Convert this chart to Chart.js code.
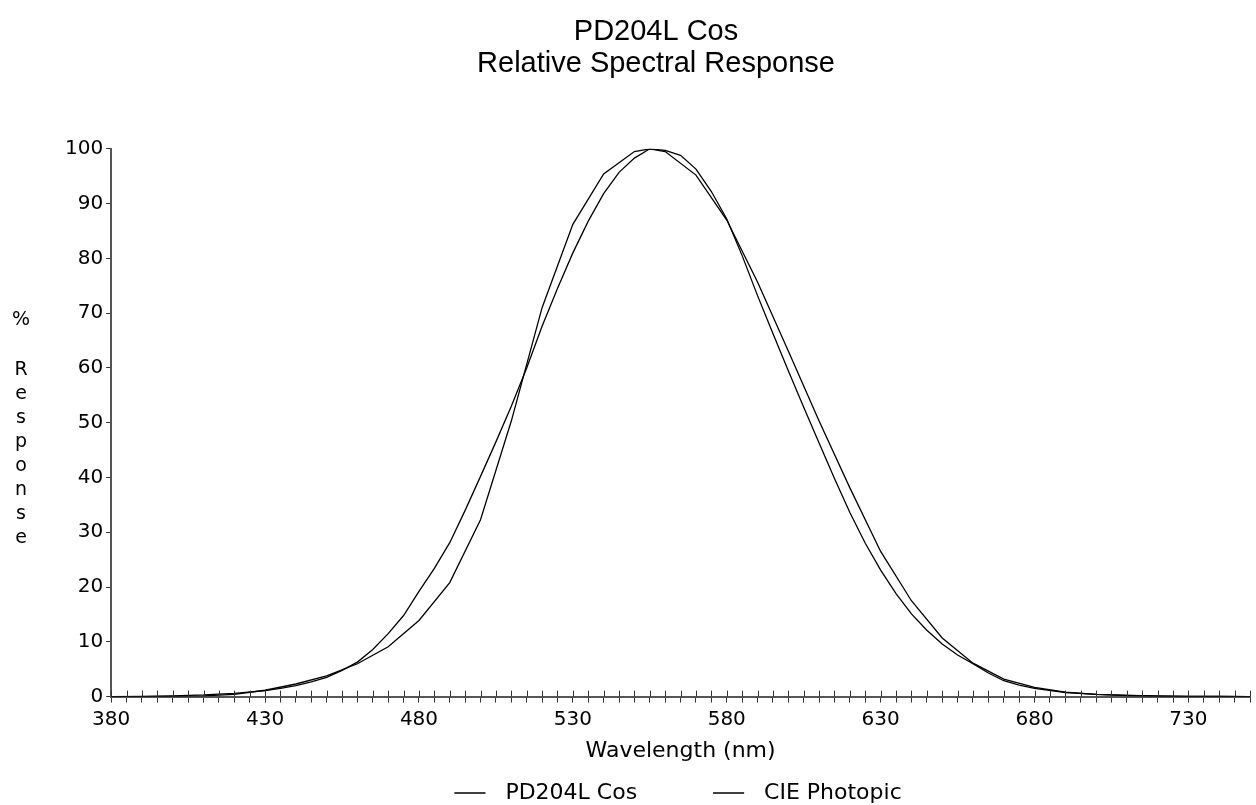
<!DOCTYPE html>
<html>
<head>
<meta charset="utf-8">
<script src="https://cdn.jsdelivr.net/npm/chart.js@4.4.1/dist/chart.umd.min.js"></script>
<style>
  html, body { margin: 0; padding: 0; background: #fff; }
  #wrap { width: 1256px; height: 805px; }
</style>
</head>
<body>
<div id="wrap"><canvas id="specChart"></canvas></div>
<script>
// wavelengths (nm) and % response
var pdWavelengths = [380, 390, 400, 410, 420, 430, 435, 440, 445, 450, 455, 460, 465, 470, 475, 480, 485, 490, 495, 500,
    505, 510, 515, 520, 525, 530, 535, 540, 545, 550, 555, 560, 565, 570, 575, 580, 585, 590, 595, 600,
    605, 610, 615, 620, 625, 630, 635, 640, 645, 650, 655, 660, 665, 670, 675, 680, 690, 700, 710, 720, 730, 740, 750];
var pdResponse = [0.0, 0.05, 0.15, 0.3, 0.6, 1.1, 1.5, 2.0, 2.7, 3.5, 4.8, 6.3, 8.6, 11.5, 14.8, 19.2, 23.4, 28.1, 34.0, 40.2,
    46.5, 53.0, 60.0, 67.6, 74.5, 81.0, 86.8, 91.8, 95.7, 98.3, 100, 99.7, 98.8, 96.3, 92.2, 87.2, 80.5, 73.2, 66.3, 59.5,
    52.8, 46.3, 39.8, 33.6, 28.0, 23.1, 18.8, 15.1, 12.1, 9.6, 7.6, 6.0, 4.3, 2.9, 2.1, 1.5, 0.75, 0.4, 0.2, 0.1, 0.05, 0.03, 0.01];

var cieWavelengths = [380, 390, 400, 410, 420, 430, 440, 450, 460, 470, 480, 490, 500, 510, 520, 530, 540, 550, 555, 560,
    570, 580, 590, 600, 610, 620, 630, 640, 650, 660, 670, 680, 690, 700, 710, 720, 730, 740, 750];
var cieResponse = [0.004, 0.012, 0.04, 0.121, 0.4, 1.16, 2.3, 3.8, 6.0, 9.1, 13.9, 20.8, 32.3, 50.3, 71.0, 86.2, 95.4, 99.5, 100, 99.5,
    95.2, 87.0, 75.7, 63.1, 50.3, 38.1, 26.5, 17.5, 10.7, 6.1, 3.2, 1.7, 0.82, 0.41, 0.21, 0.105, 0.052, 0.025, 0.012];

var seriesNames = ["PD204L Cos", "CIE Photopic"];
var titleLines = ["PD204L Cos", "Relative Spectral Response"];
var xLabelEvery = 50;
var yAxisLetters = ["R", "e", "s", "p", "o", "n", "s", "e"];

function toPoints(xs, ys) {
    return xs.map((x, i) => {
        return { x: x, y: ys[i] };
    });
}

var tickFont = { family: "'DejaVu Sans', sans-serif", size: 20 };

// short ticks crossing the x axis, plus the stacked y title
var axisExtras = {
    id: 'axisExtras',
    afterDraw(chart) {
        var ctx = chart.ctx;
        var xs = chart.scales.x;
        var area = chart.chartArea;
        ctx.save();
        ctx.strokeStyle = '#333';
        ctx.lineWidth = 1;
        xs.ticks.forEach(t => {
            var px = Math.round(xs.getPixelForValue(t.value)) + 0.5;
            ctx.beginPath();
            ctx.moveTo(px, area.bottom - 6);
            ctx.lineTo(px, area.bottom);
            ctx.stroke();
        });
        ctx.fillStyle = '#000';
        ctx.font = "19px 'DejaVu Sans', sans-serif";
        ctx.textAlign = 'center';
        ctx.textBaseline = 'middle';
        var mid = (area.top + area.bottom) / 2;
        ctx.fillText('%', 21, mid - 103);
        yAxisLetters.forEach((ch, i) => {
            ctx.fillText(ch, 21, mid - 53 + i * 24);
        });
        ctx.restore();
    }
};

var chartData = {
    datasets: [{
        label: seriesNames[0],
        data: toPoints(pdWavelengths, pdResponse),
        borderColor: '#000',
        backgroundColor: '#000',
        borderWidth: 1.3,
        pointRadius: 0,
        tension: 0
    }, {
        label: seriesNames[1],
        data: toPoints(cieWavelengths, cieResponse),
        borderColor: '#000',
        backgroundColor: '#000',
        borderWidth: 1.3,
        pointRadius: 0,
        tension: 0
    }]
}

var options = {
    responsive: true,
    maintainAspectRatio: false,
    animation: false,
    layout: {
        padding: { left: 62, right: 6, top: 0, bottom: -9 }
    },
    plugins: {
        tooltip: { enabled: false },
        title: {
            display: true,
            text: titleLines,
            color: '#000',
            font: { family: "'Liberation Sans', Arial, sans-serif", size: 29, weight: 'normal', lineHeight: 1.1 },
            padding: { top: 16, bottom: 69 }
        },
        legend: {
            position: 'bottom',
            fullSize: false,
            labels: {
                color: '#000',
                font: { family: "'DejaVu Sans', sans-serif", size: 22 },
                usePointStyle: true,
                pointStyle: 'line',
                boxWidth: 21,
                padding: 18,
                generateLabels: (chart) => {
                    var items = Chart.defaults.plugins.legend.labels.generateLabels(chart);
                    items.forEach((it, i) => {
                        it.text = '  ' + it.text + (i === 0 ? '         ' : '');
                    });
                    return items;
                }
            }
        }
    },
    scales: {
        x: {
            type: 'linear',
            min: 380,
            max: 750,
            afterBuildTicks: (scale) => {
                var t = [];
                for (var v = 380; v <= 750; v += 5) t.push({ value: v });
                scale.ticks = t;
            },
            ticks: {
                autoSkip: false,
                maxRotation: 0,
                color: '#000',
                font: tickFont,
                padding: 5,
                callback: (value) => {
                    return (value - 380) % xLabelEvery === 0 ? String(value) : '';
                }
            },
            grid: {
                drawOnChartArea: false,
                drawTicks: true,
                tickLength: 6,
                color: '#333'
            },
            border: { color: '#555', width: 2 },
            title: {
                display: true,
                text: 'Wavelength (nm)',
                color: '#000',
                font: { family: "'DejaVu Sans', sans-serif", size: 22 },
                padding: { top: 1, bottom: 0 }
            }
        },
        y: {
            min: 0,
            max: 100,
            ticks: {
                stepSize: 10,
                color: '#000',
                font: tickFont,
                padding: 3
            },
            grid: {
                drawOnChartArea: false,
                drawTicks: true,
                tickLength: 5,
                color: '#333'
            },
            border: { color: '#555', width: 2 }
        }
    }
};

document.addEventListener("DOMContentLoaded", () => {
    var ctx = document.getElementById("specChart").getContext("2d");
    window.specChart = new Chart(ctx, {
        type: 'line',
        data: chartData,
        options: options,
        plugins: [axisExtras]
    });
});
</script>
</body>
</html>
